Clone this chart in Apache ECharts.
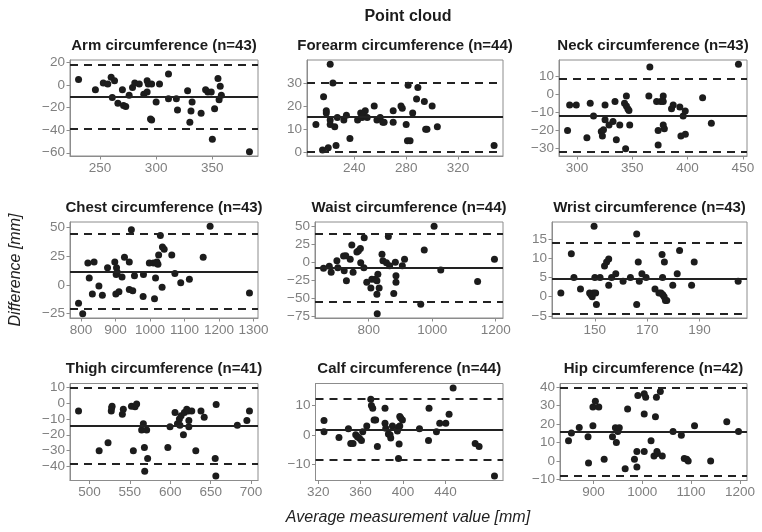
<!DOCTYPE html>
<html><head><meta charset="utf-8">
<script src="https://cdn.jsdelivr.net/npm/echarts@6/dist/echarts.min.js"></script>
<style>html,body{margin:0;padding:0;background:#fff}#c{width:762px;height:532px}</style>
</head><body><div id="c"></div>
<script>
const mainTitle = 'Point cloud';
const xAxisTitle = 'Average measurement value [mm]';
const yAxisTitle = 'Difference [mm]';
const panelTitles = ['Arm circumference (n=43)','Forearm circumference (n=44)','Neck circumference (n=43)',
  'Chest circumference (n=43)','Waist circumference (n=44)','Wrist circumference (n=43)',
  'Thigh circumference (n=41)','Calf circumference (n=44)','Hip circumference (n=42)'];

const armX = [231,246,253,257,260,263,261,266,271,273,270,276,279,281,285,289,292,292,293,296,296,295,300,303,311,311,318,319,328,332,331,330,340,344,346,349,350,352,355,357,356,358,383];
const armY = [5,-4,2,1,7,4,-11,-16,-18,-19,-4,-9,-2,2,1,-8,4,-6,1,1,-31,-30,-15,1,10,-12,-12,-22,-5,-15,-23,-33,-25,-4,-6,-6,-48,-21,6,-1,-13,-9,-59];

const forearmX = [210.5,215.6,216.4,218.5,218.5,220,221.5,221.5,221.5,223.6,225,226,227,232,234,236.7,242.6,245,246,248.5,247,250,255.4,257.5,260,262,263,270,270,276,277,280,281,283,281.5,285,288,289,294,295,296,300,304,347.7];
const forearmY = [12,1,24,18,17,2,38,14,12,30,11,3,15,14,16,6,14,17,15,18,16,15,20,14,15,13,13,18,13,20,19,12,5,5,29,17,23,28,22,10,10,20,11,3];

const neckX = [291.5,293.4,299.4,309,312,315,322,323,324,325.4,325.4,329,332.6,334.4,335.6,338.7,343,344.7,344.7,346,347,344,347.7,365.9,365,372,373.4,373.4,375.8,378,378,378,379,385.5,387,393,396,397.9,394,398,413.6,421.5,446];
const neckY = [-20,-6,-6,-24,-5,-12,-20.5,-23,-19.6,-6,-14,-17,-15,-4,-25,-17,-5,-1,-6.5,-8,-9,-30,-17,15,-1,-4,-20,-28,-4,-1,-4,-17,-19,-8,-6,-7,-12,-9.3,-23,-22,-2,-16,16.4];

const chestX = [793,805,820,824,833,838,852,862,877,898,903,902,901,910,905,919,926,940,946,940,950,955,981,980,998,1010,1013,1016,1020,1023,1025,1030,1036,1041,1035,1018,1063,1072,1089,1114,1154,1174,1288];
const chestY = [-16,-25,19,6,-8,20,-1,-9,15,20,15,9,-8,-6,11,7,24,20,48,-4,-5,8,9,-10,19,19,-12,6,20,18,26,43,33,31,-2,19,26,10,2,5,24,51,-7];

const waistX = [658,676,682,700,703,721,723,728,730,742,747,751,763,768,774,775,785,786,794,807,810,821,826,829,826,833,827,842,845,856,862,866,879,884,886,886,906,913,964,975,1006,1027,1143,1196];
const waistY = [-8.4,-5.6,-14,2,-8,8.4,-12,9,-26,4,24,-14,14,16,19,-1,-8,34,-28,-36,-24,-24,-26,-17,-45,-36,-72,11,2,-1,36,-5,-44,0,-19,-28,-5,4,-59,17,50,-11,-27,4];

const wristX = [137,141,142,144.5,148,148.5,149,149.5,150.3,149.7,150.6,150,152,153.7,154.5,155.3,155.3,156.4,158,160.8,163.6,166,166,166.6,167,168,169.6,173,174.5,175.3,176,176.5,177,177.5,175.7,175.9,176.6,179.8,181.5,182.4,187,188,204.8];
const wristY = [1,11.2,5,2,1,0.5,0,1,1,18.3,-2,5,5,8,9,9.8,3,5,6,4,5,16.3,-2,9,4,6,5,2,1,1,0.5,0,-1,-1,11,5,9,3,6,12,3,9,4];

const thighX = [486.5,512,523,527,527.5,528,540.7,541.9,552,554.3,556.4,558.4,566.7,564.6,570.8,568,568.4,572,597,599.7,605.9,608.9,611.3,612,613.4,616.3,617.5,620.4,622.5,623,623,626.6,631.6,638,642,656.8,655.6,656.4,683,694.8,698];
const thighY = [-5,-30,-25,-5,-3,-2,-7,-4,-2,-30,-2.3,-0.6,-13,-17,-17,-28,-43,-35,-28,-15,-6,-13,-10,-14,-8,-20,-6,-4,-5,-11,-15,-5,-30,-5,-9,-1,-35,-46,-14,-11,-5];

const calfX = [325.5,325.5,339.6,348.5,350.7,352.9,355.4,357,358.9,360.8,362,365.8,369.6,370.2,371.4,372.7,374.2,375.8,383,383,383.7,386.2,387.7,388.4,390,394.7,395.7,396.9,396.9,397.8,399.4,396.3,395.7,415.5,424,424.5,431.5,434.6,440.3,443.4,447.2,468,471.7,486.2];
const calfY = [4.9,1.1,-0.9,2.1,-2.9,-2.9,0.1,-0.6,-1.1,-1.9,1.1,3,12.1,10,9.1,5.1,5.1,-3.9,9.1,4,2.3,0.3,0.1,-1,3,1.3,2.6,3,6.3,5.8,5.1,-3.1,-8,2.1,-1.9,9.1,1.1,4,4,7,16,-2.9,-3.9,-14];

const hipX = [849,855,871,889,890,899,899,904,911,922,939,945,950,953,947,965,970,984,989,989,991,1004,1007,1004,1004,1018,1024,1027,1029,1030,1031,1037,1041,1063,1080,1086,1091,1094,1107,1140,1173,1197];
const hipY = [10.9,15.1,18.2,13.1,-1.1,19.1,29.3,32.4,29.3,0.9,13.1,18,16,18,10,-4.2,28.2,0.9,-3.3,5.1,35.5,36.4,34.5,25.5,5.1,10.9,2.7,24,34.5,5.1,4,37.6,2.7,16,14,1.3,0.9,0,19.1,0,21.3,16];

const meanDiff = [-10.3, 15.2, -11.6, 11.8, -7.9, 4.8, -14.3, 1.9, 15.6];
const upperLoA = [18.5, 30, 8.4, 44.3, 39.6, 14.05, 9.5, 12.3, 39.6];
const lowerLoA = [-39, 0.3, -31.6, -20.6, -55.5, -4.4, -38, -8.3, -8.2];

const xTicks = [[250,300,350],[240,280,320],[300,350,400,450],[800,900,1000,1100,1200,1300],[800,1000,1200],[150,170,190],[500,550,600,650,700],[320,360,400,440],[900,1000,1100,1200]];
const yTicks = [[-60,-40,-20,0,20],[0,10,20,30],[-30,-20,-10,0,10],[-25,0,25,50],[-75,-50,-25,0,25,50],[-5,0,5,10,15],[-40,-30,-20,-10,0,10],[-10,0,10],[-10,0,10,20,30,40]];

const xsAll = [armX, forearmX, neckX, chestX, waistX, wristX, thighX, calfX, hipX];
const ysAll = [armY, forearmY, neckY, chestY, waistY, wristY, thighY, calfY, hipY];

// layout
const FONT = '"Liberation Sans", Arial, Helvetica, sans-serif';
const panelLeft = [70,307,559,70,315,552,70,315.5,560];
const panelRight = [258,503,747];
const rowTop = [60,222,383.5];
const rowH = [96,96,97];
const titleTop = [38.5,200,361.5];
const GRAY = '#8c8c8c';
const LABEL = '#7f7f7f';
const INK = '#1c1c1c';

function padRange(vals) {
  const mn = Math.min.apply(null, vals), mx = Math.max.apply(null, vals);
  const p = (mx - mn) * 0.05;
  return [mn - p, mx + p];
}
const minus = v => String(v).replace('-', '\u2212');

const grids = [], xAxes = [], yAxes = [], series = [], titles = [];
titles.push({text: mainTitle, left: 408, top: 9, textAlign: 'center', padding: 0,
  textStyle: {fontFamily: FONT, fontSize: 16, fontWeight: 'bold', color: INK}});
titles.push({text: xAxisTitle, left: 408, top: 510, textAlign: 'center', padding: 0,
  textStyle: {fontFamily: FONT, fontSize: 16, fontStyle: 'italic', fontWeight: 'normal', color: '#222'}});

for (let i = 0; i < 9; i++) {
  const r = Math.floor(i / 3), c = i % 3;
  grids.push({left: panelLeft[i], top: rowTop[r], width: panelRight[c] - panelLeft[i], height: rowH[r],
    show: true, borderColor: GRAY, borderWidth: 1, backgroundColor: 'transparent', containLabel: false});
  const xr = padRange(xsAll[i]);
  const yr = padRange(ysAll[i].concat([upperLoA[i], lowerLoA[i]]));
  xAxes.push({type: 'value', gridIndex: i, min: xr[0], max: xr[1], scale: true,
    axisLine: {show: true, onZero: false, lineStyle: {color: GRAY, width: 1}},
    splitLine: {show: false},
    axisTick: {show: true, length: 3.5, inside: false, lineStyle: {color: GRAY}, customValues: xTicks[i]},
    axisLabel: {show: true, customValues: xTicks[i], color: LABEL, fontFamily: FONT, fontSize: 13.5, margin: 5,
      formatter: v => minus(v), showMinLabel: true, showMaxLabel: true, hideOverlap: false}});
  yAxes.push({type: 'value', gridIndex: i, min: yr[0], max: yr[1], scale: true,
    axisLine: {show: true, onZero: false, lineStyle: {color: GRAY, width: 1}},
    splitLine: {show: false},
    axisTick: {show: true, length: 3.5, inside: false, lineStyle: {color: GRAY}, customValues: yTicks[i]},
    axisLabel: {show: true, customValues: yTicks[i], color: LABEL, fontFamily: FONT, fontSize: 13.5, margin: 5,
      formatter: v => minus(v), showMinLabel: true, showMaxLabel: true}});
  const dash = {type: [8, 6], width: 2, color: '#222'};
  series.push({type: 'scatter', xAxisIndex: i, yAxisIndex: i, name: panelTitles[i],
    data: xsAll[i].map((x, k) => [x, ysAll[i][k]]),
    symbol: 'circle', symbolSize: 7, itemStyle: {color: INK, opacity: 1},
    emphasis: {disabled: true}, silent: true,
    markLine: {silent: true, symbol: 'none', animation: false, label: {show: false},
      emphasis: {disabled: true},
      data: [
        {yAxis: meanDiff[i], lineStyle: {type: 'solid', width: 2, color: '#222'}},
        {yAxis: upperLoA[i], lineStyle: dash},
        {yAxis: lowerLoA[i], lineStyle: dash}
      ]}});
  titles.push({text: panelTitles[i], left: (panelLeft[i] + panelRight[c]) / 2, top: titleTop[r],
    textAlign: 'center', padding: 0,
    textStyle: {fontFamily: FONT, fontSize: 15, fontWeight: 'bold', color: INK}});
}

const chart = echarts.init(document.getElementById('c'), null, {renderer: 'canvas', width: 762, height: 532});
chart.setOption({
  animation: false,
  backgroundColor: '#ffffff',
  title: titles,
  grid: grids,
  xAxis: xAxes,
  yAxis: yAxes,
  series: series,
  graphic: [{type: 'text', x: 16, y: 270, rotation: Math.PI / 2,
    style: {text: yAxisTitle, fill: '#222', font: 'italic 16px ' + FONT,
      textAlign: 'center', textVerticalAlign: 'middle', align: 'center', verticalAlign: 'middle'}}]
});
</script>
</body></html>
